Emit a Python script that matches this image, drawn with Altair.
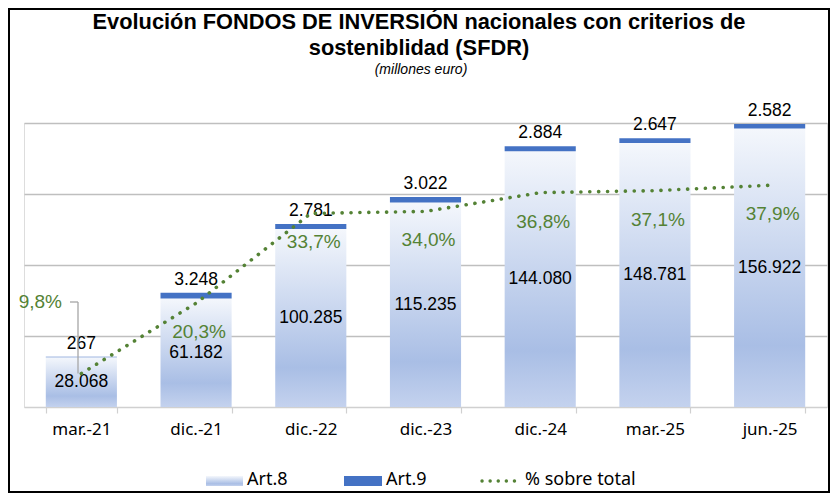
import altair as alt
import pandas as pd

cats = ["mar.-21", "dic.-21", "dic.-22", "dic.-23", "dic.-24", "mar.-25", "jun.-25"]
art8 = [28068, 61182, 100285, 115235, 144080, 148781, 156922]
art9 = [267, 3248, 2781, 3022, 2884, 2647, 2582]
pct = [9.8, 20.3, 33.7, 34.0, 36.8, 37.1, 37.9]
legend_labels = ["Art.8", "Art.9", "% sobre total"]
title_lines = ["Evolución FONDOS DE INVERSIÓN nacionales con criterios de",
               "sosteniblidad (SFDR)"]
subtitle = "(millones euro)"

df = pd.DataFrame({"cat": cats, "art8": art8, "art9": art9, "pct": pct})
df["art8_lbl"] = [f"{v:,}".replace(",", ".") for v in art8]
df["art9_lbl"] = [f"{v:,}".replace(",", ".") for v in art9]
df["pct_lbl"] = [f"{p:.1f}".replace(".", ",") + "%" for p in pct]

W, H = 803, 284
GREEN = "#548235"
BLUE9 = "#4472c4"

base = alt.Chart(df).transform_calculate(
    total="datum.art8 + datum.art9", mid="datum.art8 / 2"
)

xenc = alt.X(
    "cat:N", sort=cats, title=None,
    scale=alt.Scale(paddingInner=0.38, paddingOuter=0.19),
    axis=alt.Axis(labelAngle=0, labelFont="Noto Sans", labelFontSize=17,
                  labelColor="#000000", labelPadding=8, tickBand="extent",
                  tickSize=6, tickColor="#d0d0d0", domainColor="#d0d0d0",
                  domainWidth=1.5, tickWidth=1.2, grid=False),
)
yscale = alt.Scale(domain=[0, 160000])
pscale = alt.Scale(domain=[4.8, 47.2])

grad = alt.Gradient(
    gradient="linear", x1=0, x2=0, y1=0, y2=1,
    stops=[alt.GradientStop(color="#f4f7fc", offset=0),
           alt.GradientStop(color="#a9bee5", offset=0.78),
           alt.GradientStop(color="#c4d2ee", offset=1)],
)

bar8 = base.mark_bar(color=grad).encode(
    x=xenc,
    y=alt.Y("art8:Q", scale=yscale, stack=None,
            axis=alt.Axis(values=[40000, 80000, 120000, 160000], labels=False,
                          ticks=False, domain=False, grid=True,
                          gridColor="#bfbfbf", gridWidth=1.4, title=None)),
)
bar9 = base.mark_bar(color=BLUE9).encode(
    x=xenc,
    y=alt.Y("total:Q", scale=yscale, axis=None),
    y2="art8:Q",
)
txt8 = base.mark_text(font="Liberation Sans", fontSize=17.5, color="#000000").encode(
    x=xenc, y=alt.Y("mid:Q", scale=yscale, axis=None), text="art8_lbl:N"
)
txt9 = base.mark_text(font="Liberation Sans", fontSize=17.5, color="#000000", dy=-13).encode(
    x=xenc, y=alt.Y("total:Q", scale=yscale, axis=None), text="art9_lbl:N"
)
line = base.mark_line(color=GREEN, strokeWidth=3.6, strokeDash=[0.1, 8.8],
                      strokeCap="round").encode(
    x=xenc, y=alt.Y("pct:Q", scale=pscale, axis=None)
)
pctlbl = base.transform_filter(alt.datum.cat != "mar.-21").mark_text(
    font="Liberation Sans", fontSize=19, color=GREEN, dy=29, dx=3
).encode(x=xenc, y=alt.Y("pct:Q", scale=pscale, axis=None), text="pct_lbl:N")
pctlbl0 = base.transform_filter(alt.datum.cat == "mar.-21").mark_text(
    font="Liberation Sans", fontSize=19, color=GREEN, dy=-72, dx=-41
).encode(x=xenc, y=alt.Y("pct:Q", scale=pscale, axis=None), text="pct_lbl:N")

# leader line for the first percentage label
lead_v = base.transform_filter(alt.datum.cat == "mar.-21").mark_rule(
    color="#a6a6a6", strokeWidth=1.3
).encode(x=alt.value(54), y=alt.Y("pct:Q", scale=pscale, axis=None), y2=alt.value(179))
lead_h = base.transform_filter(alt.datum.cat == "mar.-21").mark_rule(
    color="#a6a6a6", strokeWidth=1.3
).encode(x=alt.value(46), x2=alt.value(54), y=alt.value(179))


def one(label):
    return alt.Chart(alt.Data(values=[{"k": label}]))


leg8 = one(legend_labels[0]).mark_rect(color=grad).encode(
    x=alt.value(182), x2=alt.value(219), y=alt.value(353), y2=alt.value(363))
leg9 = one(legend_labels[1]).mark_rect(color=BLUE9).encode(
    x=alt.value(320), x2=alt.value(358), y=alt.value(353), y2=alt.value(363))
legl = one(legend_labels[2]).mark_rule(color=GREEN, strokeWidth=3.4, strokeDash=[0.1, 8],
                                       strokeCap="round").encode(
    x=alt.value(458), x2=alt.value(494), y=alt.value(358))
legt = []
for lab, px in zip(legend_labels, [223, 362, 501]):
    legt.append(one(lab).mark_text(align="left", baseline="middle", font="Noto Sans",
                                   fontSize=18, color="#000000").encode(
        x=alt.value(px), y=alt.value(357), text="k:N"))

titles = []
for lab, py in zip(title_lines, [-101, -75]):
    titles.append(one(lab).mark_text(align="center", baseline="middle",
                                     font="Liberation Sans", fontSize=21.8,
                                     fontWeight="bold", color="#000000").encode(
        x=alt.value(395), y=alt.value(py), text="k:N"))
titles.append(one(subtitle).mark_text(align="center", baseline="middle",
                                      font="Liberation Sans", fontSize=14,
                                      fontStyle="italic", color="#000000").encode(
    x=alt.value(397), y=alt.value(-53), text="k:N"))

frame = one("frame").mark_rect(filled=False, stroke="#000000", strokeWidth=2).encode(
    x=alt.value(-15), x2=alt.value(805), y=alt.value(-114), y2=alt.value(369))

chart = alt.layer(
    bar8, bar9, txt8, txt9, lead_v, lead_h, line, pctlbl, pctlbl0,
    leg8, leg9, legl, *legt, *titles, frame
).resolve_scale(y="independent").properties(
    width=W, height=H,
    autosize=alt.AutoSizeParams(type="none"),
    padding={"left": 16, "top": 115, "right": 3, "bottom": 86},
).configure_view(stroke=None).configure(background="white")

chart.save("out.html", embed_options={"renderer": "svg", "actions": False})
